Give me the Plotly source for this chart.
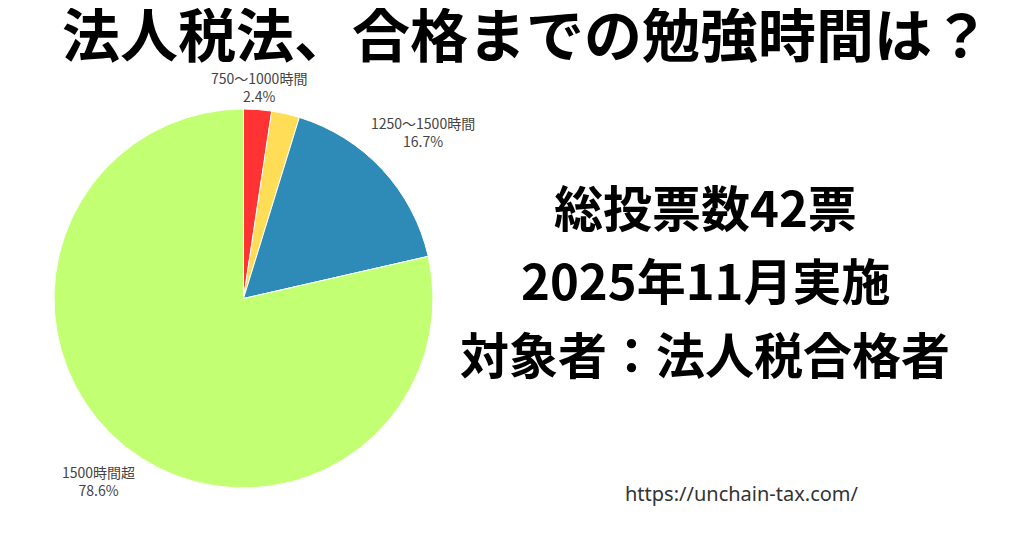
#!/usr/bin/env python3
# 法人税法 合格までの勉強時間 アンケート pie chart

import math
import plotly.graph_objects as go

# vote counts (42 votes total)
hour_labels = ['750～1000時間', '1000～1250時間', '1250～1500時間', '1500時間超']
votes = [1, 1, 7, 33]
slice_colors = ['#FF3333', '#FFDD57', '#2E8BB8', '#C2FF72']
# the yellow slice has no label in the original
show_label = [True, False, True, True]

title_text = '法人税法、合格までの勉強時間は？'
info_lines = ['総投票数42票', '2025年11月実施', '対象者：法人税合格者']
site_url = 'https://unchain-tax.com/'

JP_FONT = 'Noto Sans CJK JP'
W, H = 1024, 538

# pie geometry in page pixels (page has an 8px body margin)
PIE_CX, PIE_CY, PIE_R = 235.5, 290.5, 189.5
# how far out each label's centre sits, in pie radii
label_dist = [1.12, 1.2, 1.29, 1.23]

fig = go.Figure()
fig.add_trace(go.Pie(
    labels=hour_labels,
    values=votes,
    sort=False,
    direction='clockwise',
    rotation=0,
    marker=dict(colors=slice_colors, line=dict(color='white', width=1)),
    textinfo='none',
    domain=dict(x=[(PIE_CX - PIE_R) / W, (PIE_CX + PIE_R) / W],
                y=[1 - (PIE_CY + PIE_R) / H, 1 - (PIE_CY - PIE_R) / H]),
    showlegend=False,
    hoverinfo='label+percent',
))

# outside labels, placed on each slice's middle angle
total = sum(votes)
start = 0.0
for lab, v, show, dist in zip(hour_labels, votes, show_label, label_dist):
    frac = v / total
    mid = (start + frac / 2) * 2 * math.pi
    start += frac
    if not show:
        continue
    px = PIE_CX + dist * PIE_R * math.sin(mid)
    py = PIE_CY - dist * PIE_R * math.cos(mid)
    fig.add_annotation(text=f'{lab}<br>{frac * 100:.1f}%', xref='paper', yref='paper',
                       x=px / W, y=1 - py / H, xanchor='center', yanchor='middle',
                       showarrow=False,
                       font=dict(family=JP_FONT, size=14, color='#444'))

fig.update_layout(
    width=W, height=H,
    margin=dict(l=0, r=0, t=0, b=0),
    paper_bgcolor='white',
    plot_bgcolor='white',
    title=dict(text='<b>' + title_text + '</b>', x=518 / W, xanchor='center',
               y=1 - 29 / H, yanchor='middle',
               font=dict(family=JP_FONT, size=58, color='black')),
)

# right-side info block
line_y = [198, 270, 344]
for txt, ypix in zip(info_lines, line_y):
    fig.add_annotation(text='<b>' + txt + '</b>', xref='paper', yref='paper',
                       x=697 / W, y=1 - ypix / H, xanchor='center', yanchor='middle',
                       showarrow=False,
                       font=dict(family=JP_FONT, size=49, color='black'))

fig.add_annotation(text=site_url, xref='paper', yref='paper',
                   x=734 / W, y=1 - 485 / H, xanchor='center', yanchor='middle',
                   showarrow=False,
                   font=dict(family='Noto Sans', size=20, color='#333'))

fig.write_html("out.html")
